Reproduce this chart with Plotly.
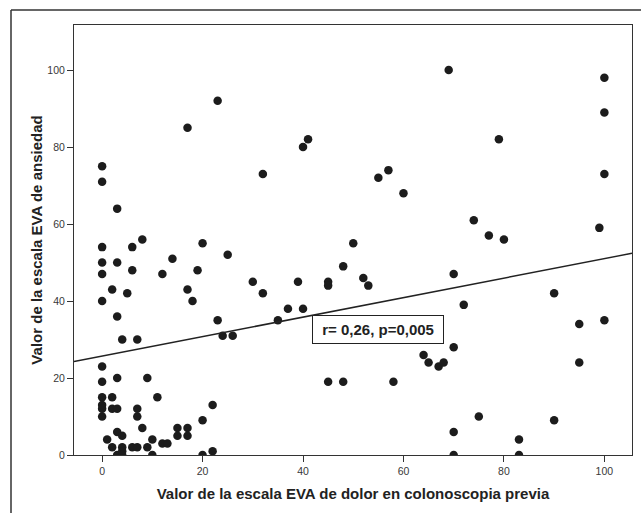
import numpy as np
import plotly.graph_objects as go

# Data
dolor = [0, 0, 3, 17, 23, 32,
         0, 6, 8, 20, 0, 3, 0, 6, 12, 14, 19, 25,
         2, 5, 0, 17, 18, 30, 32, 23, 3, 4, 7, 24, 26,
         0, 0, 3, 9, 0, 2, 11, 0, 0, 2, 3, 0, 7, 7, 22, 20, 8, 3, 4,
         15, 17, 15, 17, 1, 10, 12, 13, 2, 4, 6, 7, 9, 3, 4, 4, 10, 20, 22,
         41, 40, 57, 55, 60, 50, 48, 39, 45, 45, 52, 53, 70, 37, 40, 35,
         70, 64, 65, 67, 68, 45, 48, 58, 70, 70,
         69, 100, 100, 79, 100, 74, 77, 80, 99, 72, 90, 95, 100, 95, 75, 90, 83, 83]
ansiedad = [75, 71, 64, 85, 92, 73,
            54, 54, 56, 55, 50, 50, 47, 48, 47, 51, 48, 52,
            43, 42, 40, 43, 40, 45, 42, 35, 36, 30, 30, 31, 31,
            23, 19, 20, 20, 15, 15, 15, 13, 12, 12, 12, 10, 12, 10, 13, 9, 7, 6, 5,
            7, 7, 5, 5, 4, 4, 3, 3, 2, 2, 2, 2, 2, 0, 1, 0, 0, 0, 1,
            82, 80, 74, 72, 68, 55, 49, 45, 45, 44, 46, 44, 47, 38, 38, 35,
            28, 26, 24, 23, 24, 19, 19, 19, 6, 0,
            100, 98, 89, 82, 73, 61, 57, 56, 59, 39, 42, 34, 35, 24, 10, 9, 4, 0]

# Fit line (intercept, slope)
fit_coef = [25.7, 0.253]
x_range = [-5.6, 105.5]
y_range = [0, 111.7]
x_ticks = [0, 20, 40, 60, 80, 100]
y_ticks = [0, 20, 40, 60, 80, 100]
annot_text = "r= 0,26, p=0,005"
annot_pos = [55.0, 32.6]

fit_x = np.array(x_range)
fit_y = fit_coef[0] + fit_coef[1] * fit_x

fig = go.Figure()
fig.add_trace(go.Scatter(
    x=dolor, y=ansiedad, mode="markers",
    marker=dict(size=8.5, color="#1c1c1c"),
    showlegend=False, cliponaxis=True))
fig.add_trace(go.Scatter(
    x=fit_x, y=fit_y, mode="lines",
    line=dict(color="#222222", width=1.5),
    showlegend=False))

fig.add_annotation(
    x=annot_pos[0], y=annot_pos[1], xref="x", yref="y",
    text="\u00a0<b>" + annot_text + "</b>\u00a0", showarrow=False,
    font=dict(family="Liberation Sans, Arial", size=15, color="#222222"),
    bordercolor="#222222", borderwidth=1, borderpad=5, bgcolor="white")

L, R, T, B = 74, 9, 25, 58
W, H = 641, 513
pw, ph = W - L - R, H - T - B
# Outer frame (left and top edges)
fx = (11 - L) / pw
fy = 1 + (T - 10) / ph
fig.add_shape(type="line", xref="paper", yref="paper",
              x0=fx, x1=fx, y0=fy, y1=-(B + 5) / ph,
              line=dict(color="#333333", width=1.5))
fig.add_shape(type="line", xref="paper", yref="paper",
              x0=fx, x1=1 + (R + 5) / pw, y0=fy, y1=fy,
              line=dict(color="#333333", width=1.5))

axis_common = dict(
    showgrid=False, zeroline=False, showline=True, mirror=True,
    linecolor="#333333", linewidth=1, ticks="outside", ticklen=6,
    tickcolor="#333333", tickwidth=1,
    tickfont=dict(family="Liberation Sans, Arial", size=10.5, color="#383838"),
)
fig.update_xaxes(range=x_range, tickvals=x_ticks, **axis_common,
                 title=dict(text="<b>Valor de la escala EVA de dolor en colonoscopia previa</b>",
                            font=dict(family="Liberation Sans, Arial", size=15, color="#222222"),
                            standoff=12))
fig.update_yaxes(range=y_range, tickvals=y_ticks, **axis_common,
                 title=dict(text="<b>Valor de la escala EVA de ansiedad</b>",
                            font=dict(family="Liberation Sans, Arial", size=15, color="#222222"),
                            standoff=1))
fig.update_layout(width=W, height=H, margin=dict(l=L, r=R, t=T, b=B, autoexpand=False),
                  plot_bgcolor="white", paper_bgcolor="white")
fig.write_html("out.html", config={"displayModeBar": False},
               post_script="document.body.style.margin='0px';document.body.style.overflow='hidden';")
